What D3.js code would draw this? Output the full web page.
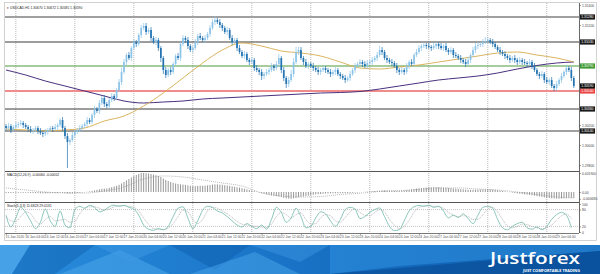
<!DOCTYPE html>
<html>
<head>
<meta charset="utf-8">
<script src="https://cdn.jsdelivr.net/npm/d3@7"></script>
<style>
  body { margin: 0; background: #fff; }
  svg { display: block; font-family: "Liberation Sans", Arial, sans-serif; }
</style>
</head>
<body>
<div id="chart"></div>
<script>
"use strict"

/* ---- Data ---- */
let chartTitle = "USDCAD,H1  1.30670 1.30672 1.30585 1.30590";
let macdTitle = "MACD(12,26,9) -0.00060 -0.00052";
let stochTitle = "Stoch(5,3,3) 11.6823 29.0131";

let firstOpen = 1.3019;
/* hourly closes */
let closes = [
  1.3017,1.3019,1.3015,1.3018,1.3020,1.3021,1.3022,1.3020,
  1.3018,1.3016,1.3014,1.3015,1.3017,1.3014,1.3012,1.3011,
  1.3013,1.3015,1.3017,1.3016,1.3018,1.3020,1.3025,1.3017,
  1.3009,1.3003,1.3005,1.3010,1.3013,1.3015,1.3017,1.3019,
  1.3021,1.3025,1.3023,1.3030,1.3036,1.3034,1.3042,1.3047,
  1.3041,1.3039,1.3045,1.3049,1.3047,1.3055,1.3063,1.3073,
  1.3083,1.3090,1.3087,1.3097,1.3103,1.3101,1.3110,1.3117,
  1.3119,1.3113,1.3115,1.3107,1.3103,1.3105,1.3097,1.3087,
  1.3075,1.3070,1.3075,1.3073,1.3081,1.3089,1.3087,1.3101,
  1.3107,1.3105,1.3099,1.3095,1.3097,1.3103,1.3109,1.3107,
  1.3105,1.3107,1.3111,1.3117,1.3123,1.3125,1.3123,1.3120,
  1.3117,1.3113,1.3115,1.3107,1.3103,1.3105,1.3097,1.3093,
  1.3089,1.3091,1.3085,1.3083,1.3085,1.3077,1.3075,1.3073,
  1.3069,1.3071,1.3073,1.3075,1.3079,1.3077,1.3081,1.3087,
  1.3075,1.3067,1.3061,1.3065,1.3071,1.3083,1.3093,1.3095,
  1.3087,1.3083,1.3079,1.3081,1.3079,1.3077,1.3075,1.3073,
  1.3075,1.3077,1.3075,1.3073,1.3071,1.3073,1.3075,1.3071,
  1.3069,1.3067,1.3065,1.3067,1.3071,1.3075,1.3079,1.3081,
  1.3083,1.3081,1.3079,1.3082,1.3083,1.3085,1.3087,1.3090,
  1.3095,1.3093,1.3087,1.3085,1.3083,1.3082,1.3079,1.3075,
  1.3073,1.3075,1.3073,1.3079,1.3083,1.3081,1.3090,1.3093,
  1.3097,1.3099,1.3100,1.3099,1.3098,1.3097,1.3099,1.3101,
  1.3099,1.3097,1.3099,1.3095,1.3093,1.3095,1.3090,1.3089,
  1.3087,1.3085,1.3083,1.3081,1.3085,1.3090,1.3095,1.3099,
  1.3100,1.3101,1.3103,1.3104,1.3105,1.3103,1.3101,1.3098,
  1.3095,1.3093,1.3091,1.3089,1.3087,1.3085,1.3087,1.3085,
  1.3083,1.3085,1.3083,1.3082,1.3081,1.3083,1.3079,1.3075,
  1.3071,1.3069,1.3071,1.3065,1.3063,1.3065,1.3059,1.3057,
  1.3061,1.3065,1.3069,1.3073,1.3077,1.3075,1.3067,1.3059
];
/* wick lengths above / below the body, in pips */
let upperWick = [
  2,3,2,2,3,2,3,2, 2,2,3,2,2,2,3,2, 3,2,2,2,3,2,2,3, 2,3,2,3,2,2,3,2,
  2,3,2,2,3,2,3,2, 3,2,2,3,2,2,3,4, 3,2,3,2,3,2,2,3, 3,3,2,3,2,3,2,2,
  2,3,2,3,2,2,3,2, 3,2,3,2,2,3,2,3, 2,3,2,3,3,4,2,3, 2,2,3,2,3,2,2,3,
  2,3,2,2,3,2,3,2, 3,2,3,2,3,2,3,4, 2,3,2,3,4,4,5,3, 3,2,3,2,2,3,2,3,
  2,3,2,2,3,2,3,2, 2,2,3,2,3,2,3,2, 3,2,3,3,2,3,2,3, 4,3,2,3,2,3,2,3,
  2,3,2,3,2,3,2,3, 3,2,3,2,3,2,3,2, 2,3,2,3,2,3,2,3, 2,3,2,3,3,2,3,3,
  3,2,3,4,3,2,3,2, 2,3,2,3,2,3,2,3, 2,3,2,3,2,3,2,3, 2,2,3,2,3,2,3,2,
  3,2,3,2,3,2,3,2
];
let lowerWick = [
  3,2,3,2,2,3,2,3, 2,3,2,3,2,3,2,3, 2,3,2,3,2,3,2,3, 3,26,3,2,3,2,2,3,
  2,3,2,2,3,2,3,2, 3,2,3,2,3,2,2,3, 2,3,2,3,2,3,2,3, 2,3,2,3,2,3,3,4,
  4,3,2,3,2,3,2,3, 2,3,3,2,3,2,3,2, 2,3,2,3,2,3,2,3, 3,2,3,2,3,2,3,2,
  2,3,2,3,2,3,2,3, 4,3,2,3,2,3,2,3, 3,3,4,3,2,3,2,3, 2,3,2,3,2,3,2,3,
  3,2,3,2,3,2,3,2, 3,2,3,2,3,2,3,2, 2,3,2,3,2,3,2,3, 2,3,2,3,2,3,2,3,
  3,2,3,2,3,2,3,2, 2,3,2,3,2,3,2,3, 3,2,3,2,3,2,3,2, 2,3,2,3,2,3,2,3,
  3,2,3,2,3,2,3,2, 2,3,2,3,2,3,2,3, 3,2,3,2,3,2,3,2, 2,3,2,3,2,3,2,3,
  3,2,3,2,3,2,3,2
];

/* moving averages, sampled on these bars */
let sampleBars = [0,8,16,24,32,40,48,56,64,72,80,88,96,104,112,120,128,136,144,152,160,168,176,184,192,200,208,216,224,231];
let maFast = [1.3016,1.3015,1.3014,1.3015,1.3017,1.3024,1.3029,1.3039,1.3052,1.3067,1.3082,1.3095,1.3102,1.3099,1.3094,
              1.3092,1.3089,1.3083,1.3077,1.3076,1.3078,1.3080,1.3083,1.3086,1.3089,1.3092,1.3093,1.3090,1.3087,1.3083];
let maSlow = [1.30750,1.30700,1.30640,1.30590,1.30540,1.30490,1.30440,1.30420,1.30430,1.30440,1.30460,1.30470,1.30480,1.30490,1.30500,
              1.30510,1.30520,1.30525,1.30535,1.30560,1.30590,1.30620,1.30650,1.30670,1.30690,1.30720,1.30760,1.30795,1.30820,1.30830];

/* horizontal levels and current bid */
let levels = [1.3128, 1.3103, 1.3079, 1.3054, 1.3036, 1.3014];
let bidPrice = 1.3059;
let priceTicks = [1.3140, 1.3120, 1.3100, 1.3080, 1.3060, 1.3040, 1.3020, 1.3000, 1.2980];

/* MACD histogram and signal, in points (0.00001) */
let macdHist = [
  -10,-9,-10,-9,-8,-8,-7,-8, -8,-9,-10,-11,-11,-12,-13,-14, -14,-13,-12,-12,-11,-10,-8,-9, -11,-14,-15,-14,-12,-10,-8,-5,
  -2,2,6,11,16,22,27,32, 34,36,42,48,55,62,72,85, 100,115,130,145,158,170,180,188, 190,188,185,180,175,168,160,150,
  135,120,110,100,92,85,80,76, 74,70,66,62,58,58,60,62, 62,63,66,70,74,76,76,74, 72,68,64,60,56,52,48,44,
  38,32,26,20,14,8,2,-4, -10,-16,-22,-28,-34,-38,-42,-46, -52,-58,-64,-66,-68,-64,-58,-52, -48,-44,-40,-36,-32,-28,-24,-22,
  -20,-18,-16,-15,-14,-13,-12,-12, -12,-12,-13,-12,-10,-8,-6,-4, -2,0,2,4,6,8,10,12, 14,16,16,16,15,14,13,12,
  12,13,15,18,22,26,30,34, 37,40,42,44,46,47,48,48, 47,46,44,42,40,38,35,32, 30,28,26,24,22,22,22,23,
  24,25,26,27,27,26,24,22, 18,14,10,6,2,-2,-6,-10, -14,-17,-20,-23,-26,-29,-33,-37, -41,-45,-49,-53,-57,-60,-63,-65,
  -66,-66,-65,-63,-61,-59,-59,-60
];
let macdSignal = [40,20,0,-10,-10,10,50,130,160,150,120,90,60,-10,-40,-50,-45,-25,-12,5,14,25,40,40,30,20,0,-25,-50,-60];

/* Stochastic, one value every 2 bars */
let stochStep = 2;
let stochMain = [
  60,18,50,88,70,40,12,35,82,40, 20,75,25,15,80,92,85,95,88,72, 78,90,96,92,95,88,82,60,25,10,
  6,12,8,20,55,85,90,50,12,40, 78,92,88,75,68,55,40,25,18,30, 20,12,25,10,45,88,70,35,50,85,
  55,15,20,50,72,65,40,20,45,80, 88,82,48,55,70,80,86,55,20,5, 8,40,75,90,95,92,96,88,92,75,
  50,60,52,65,48,30,60,88,92,85, 45,15,8,20,30,35,15,10,18,8, 20,45,62,70,60,15
];
let stochSignal = [
  55,40,38,55,72,65,40,28,45,55, 40,42,45,35,38,65,85,90,90,85, 78,82,90,93,94,92,88,75,50,28,
  12,10,9,14,30,55,78,72,45,30, 45,75,88,85,75,65,52,38,28,25, 22,20,18,16,28,55,70,62,50,62,
  68,45,28,30,50,62,58,40,35,52, 72,82,70,60,58,70,80,72,45,25, 12,20,42,70,88,92,93,92,90,85,
  70,60,55,58,55,45,45,62,82,88, 72,45,22,15,20,28,26,20,15,12, 15,25,42,58,64,48
];

/* time axis */
let labelBars = [0,8,16,24,32,40,48,56,64,72,80,88,96,104,112,120,128,136,144,152,160,168,176,184,192,200,208,216,224];
let timeLabels = ["15 Jan 2020","16 Jan 04:00","16 Jan 12:00","16 Jan 20:00","17 Jan 04:00","17 Jan 12:00","17 Jan 20:00",
  "20 Jan 04:00","20 Jan 12:00","20 Jan 20:00","21 Jan 04:00","21 Jan 12:00","21 Jan 20:00","22 Jan 04:00","22 Jan 12:00",
  "22 Jan 20:00","23 Jan 04:00","23 Jan 12:00","23 Jan 20:00","24 Jan 04:00","24 Jan 12:00","24 Jan 20:00","27 Jan 04:00",
  "27 Jan 12:00","27 Jan 20:00","28 Jan 04:00","28 Jan 12:00","28 Jan 20:00","29 Jan 04:00"];
let dayBars = [4,28,52,76,100,124,148,172,196,220];

/* ---- Layout ---- */
let svgWidth = 600;
let svgHeight = 274;
let plotLeft = 5;
let plotRight = 579;
let mainTop = 3, mainBottom = 171;
let macdTop = 172, macdBottom = 202;
let stochTop = 203, stochBottom = 233;
let pip = 0.0001;
let smallFont = 3.4;

let svg = d3.select("#chart")
    .append("svg")
    .attr("width", svgWidth)
    .attr("height", svgHeight);

svg.append("rect")
    .attr("width", svgWidth)
    .attr("height", svgHeight)
    .attr("fill", "#fff");

let n = closes.length;
let xScale = d3.scaleLinear().domain([0, n - 1]).range([6, 573.8]);
let yPrice = d3.scaleLinear().domain([1.3142, 1.2975]).range([3, 170]);
let yMacd = d3.scaleLinear().domain([-100, 200]).range([202, 172]);
let yStoch = d3.scaleLinear().domain([0, 100]).range([232, 204]);

/* chart frame */
svg.append("rect")
    .attr("x", 4.5).attr("y", 2.5)
    .attr("width", 592).attr("height", 238)
    .attr("fill", "none")
    .attr("stroke", "#c8c8c8")
    .attr("stroke-width", 0.8);

/* vertical day grid (dotted) */
svg.append("g")
    .selectAll("line")
    .data(dayBars)
    .join("line")
    .attr("x1", d => xScale(d)).attr("x2", d => xScale(d))
    .attr("y1", mainTop).attr("y2", stochBottom)
    .attr("stroke", "#8a8a8a")
    .attr("stroke-width", 0.6)
    .attr("stroke-dasharray", "1,1");

/* clip for the price panel */
svg.append("clipPath").attr("id", "mainClip")
    .append("rect")
    .attr("x", plotLeft).attr("y", mainTop)
    .attr("width", plotRight - plotLeft).attr("height", mainBottom - mainTop);

let mainG = svg.append("g").attr("clip-path", "url(#mainClip)");

/* horizontal levels */
let levelStyle = [
    {stroke: "#a0a0a0", width: 1.8, box: "#1a1a1a", text: "#fff"},
    {stroke: "#3a3a3a", width: 1, box: "#1a1a1a", text: "#fff"},
    {stroke: "#4f9a3c", width: 1, box: "#3f9a35", text: "#fff"},
    {stroke: "#f08c8c", width: 1.8, box: "#e84848", text: "#fff"},
    {stroke: "#3a3a3a", width: 1, box: "#1a1a1a", text: "#fff"},
    {stroke: "#a0a0a0", width: 1.8, box: "#1a1a1a", text: "#fff"}
];
mainG.selectAll(".level")
    .data(levels)
    .join("line")
    .attr("class", "level")
    .attr("x1", plotLeft).attr("x2", plotRight)
    .attr("y1", d => yPrice(d)).attr("y2", d => yPrice(d))
    .attr("stroke", (d, i) => levelStyle[i].stroke)
    .attr("stroke-width", (d, i) => levelStyle[i].width);

/* moving averages */
let maLine = d3.line()
    .x((d, i) => xScale(sampleBars[i]))
    .y(d => yPrice(d))
    .curve(d3.curveMonotoneX);

mainG.append("path")
    .attr("d", maLine(maSlow))
    .attr("fill", "none")
    .attr("stroke", "#4a2f7e")
    .attr("stroke-width", 1);

mainG.append("path")
    .attr("d", maLine(maFast))
    .attr("fill", "none")
    .attr("stroke", "#d6ac4e")
    .attr("stroke-width", 0.9);

/* candles */
let candles = closes.map(function (c, i) {
    let o = i === 0 ? firstOpen : closes[i - 1];
    return {
        i: i, open: o, close: c,
        high: Math.max(o, c) + upperWick[i] * pip,
        low: Math.min(o, c) - lowerWick[i] * pip
    };
});
let bullColor = "#8cc4e8";
let bearColor = "#2474b2";

mainG.selectAll(".wick")
    .data(candles)
    .join("line")
    .attr("class", "wick")
    .attr("x1", d => xScale(d.i)).attr("x2", d => xScale(d.i))
    .attr("y1", d => yPrice(d.high)).attr("y2", d => yPrice(d.low))
    .attr("stroke", d => d.close >= d.open ? bullColor : bearColor)
    .attr("stroke-width", 0.7);

mainG.selectAll(".body")
    .data(candles)
    .join("rect")
    .attr("class", "body")
    .attr("x", d => xScale(d.i) - 0.85)
    .attr("width", 1.7)
    .attr("y", d => yPrice(Math.max(d.open, d.close)))
    .attr("height", d => Math.max(0.7, Math.abs(yPrice(d.open) - yPrice(d.close))))
    .attr("fill", d => d.close >= d.open ? bullColor : bearColor);

/* chart title */
svg.append("text")
    .attr("x", 7).attr("y", 8.5)
    .attr("font-size", smallFont)
    .attr("fill", "#222")
    .text("\u25BE " + chartTitle);

/* ---- MACD panel ---- */
svg.append("line")
    .attr("x1", plotLeft).attr("x2", plotRight)
    .attr("y1", mainBottom + 0.5).attr("y2", mainBottom + 0.5)
    .attr("stroke", "#555").attr("stroke-width", 1);

svg.append("g")
    .selectAll("line")
    .data(macdHist)
    .join("line")
    .attr("x1", (d, i) => xScale(i)).attr("x2", (d, i) => xScale(i))
    .attr("y1", yMacd(0)).attr("y2", d => yMacd(d))
    .attr("stroke", "#6a6a6a")
    .attr("stroke-width", 0.7);

svg.append("path")
    .attr("d", d3.line()
        .x((d, i) => xScale(sampleBars[i]))
        .y(d => yMacd(d))
        .curve(d3.curveMonotoneX)(macdSignal))
    .attr("fill", "none")
    .attr("stroke", "#9a9a9a")
    .attr("stroke-width", 0.7)
    .attr("stroke-dasharray", "1,1");

svg.append("text")
    .attr("x", 7).attr("y", macdTop + 4)
    .attr("font-size", smallFont)
    .attr("fill", "#222")
    .text(macdTitle);

/* ---- Stochastic panel ---- */
svg.append("line")
    .attr("x1", plotLeft).attr("x2", plotRight)
    .attr("y1", macdBottom + 0.5).attr("y2", macdBottom + 0.5)
    .attr("stroke", "#555").attr("stroke-width", 1);

svg.append("g")
    .selectAll("line")
    .data([80, 20])
    .join("line")
    .attr("x1", plotLeft).attr("x2", plotRight)
    .attr("y1", d => yStoch(d)).attr("y2", d => yStoch(d))
    .attr("stroke", "#999")
    .attr("stroke-width", 0.6)
    .attr("stroke-dasharray", "1,1");

let stochLine = d3.line()
    .x((d, i) => xScale(i * stochStep))
    .y(d => yStoch(d))
    .curve(d3.curveMonotoneX);

svg.append("path")
    .attr("d", stochLine(stochSignal))
    .attr("fill", "none")
    .attr("stroke", "#a8a8a8")
    .attr("stroke-width", 0.7)
    .attr("stroke-dasharray", "1.2,0.8");

svg.append("path")
    .attr("d", stochLine(stochMain))
    .attr("fill", "none")
    .attr("stroke", "#6fb9ab")
    .attr("stroke-width", 0.8);

svg.append("text")
    .attr("x", 7).attr("y", stochTop + 4)
    .attr("font-size", smallFont)
    .attr("fill", "#222")
    .text(stochTitle);

/* ---- Right price scale ---- */
svg.append("line")
    .attr("x1", plotRight + 0.5).attr("x2", plotRight + 0.5)
    .attr("y1", mainTop).attr("y2", stochBottom)
    .attr("stroke", "#444").attr("stroke-width", 0.8);

let boxed = levels.concat([bidPrice]);
let visibleTicks = priceTicks.filter(t => boxed.every(b => Math.abs(yPrice(t) - yPrice(b)) > 4));

let priceAxis = svg.append("g")
    .attr("transform", "translate(" + (plotRight + 0.5) + ",0)")
    .call(d3.axisRight(yPrice)
        .tickValues(visibleTicks)
        .tickSize(1.5)
        .tickPadding(1)
        .tickFormat(d3.format(".5f")));
priceAxis.select(".domain").remove();
priceAxis.selectAll("text").attr("font-size", smallFont).attr("fill", "#444");
priceAxis.selectAll("line").attr("stroke", "#444").attr("stroke-width", 0.5);

/* price boxes for levels and bid */
let boxData = levels.map((v, i) => ({v: v, fill: levelStyle[i].box, text: levelStyle[i].text}))
    .concat([{v: bidPrice, fill: "#111", text: "#fff"}]);
let boxG = svg.append("g").selectAll("g")
    .data(boxData)
    .join("g")
    .attr("transform", d => "translate(" + (plotRight + 1) + "," + yPrice(d.v) + ")");
boxG.append("rect")
    .attr("x", 0).attr("y", -2.6)
    .attr("width", 15).attr("height", 5.2)
    .attr("fill", d => d.fill);
boxG.append("text")
    .attr("x", 1.2).attr("y", 1.2)
    .attr("font-size", smallFont)
    .attr("fill", d => d.text)
    .text(d => d3.format(".5f")(d.v));

/* MACD scale */
let macdTicks = [d3.max(macdHist), 0, d3.min(macdHist)];
let macdAxis = svg.append("g")
    .attr("transform", "translate(" + (plotRight + 0.5) + ",0)")
    .call(d3.axisRight(yMacd)
        .tickValues(macdTicks)
        .tickSize(1.5)
        .tickPadding(1)
        .tickFormat(d => d === 0 ? "0.00" : (d / 100000).toFixed(6)));
macdAxis.select(".domain").remove();
macdAxis.selectAll("text").attr("font-size", smallFont).attr("fill", "#444");
macdAxis.selectAll("line").attr("stroke", "#444").attr("stroke-width", 0.5);

/* stochastic scale */
let stochAxis = svg.append("g")
    .attr("transform", "translate(" + (plotRight + 0.5) + ",0)")
    .call(d3.axisRight(yStoch)
        .tickValues([100, 80, 20, 0])
        .tickSize(1.5)
        .tickPadding(1));
stochAxis.select(".domain").remove();
stochAxis.selectAll("text").attr("font-size", smallFont).attr("fill", "#444");
stochAxis.selectAll("line").attr("stroke", "#444").attr("stroke-width", 0.5);

/* ---- Time axis ---- */
let timeAxis = svg.append("g")
    .attr("transform", "translate(0," + (stochBottom + 0.5) + ")")
    .call(d3.axisBottom(xScale)
        .tickValues(labelBars)
        .tickSize(1.5)
        .tickPadding(0.8)
        .tickFormat((d, i) => timeLabels[i]));
timeAxis.select(".domain")
    .attr("d", "M" + plotLeft + ",0H" + plotRight)
    .attr("stroke", "#555").attr("stroke-width", 0.8);
timeAxis.selectAll("text")
    .attr("font-size", smallFont)
    .attr("fill", "#555")
    .attr("text-anchor", "start")
    .attr("dx", -1);
timeAxis.selectAll("line").attr("stroke", "#555").attr("stroke-width", 0.5);

/* ---- JustForex banner ---- */
let bannerTop = 245;
let defs = svg.append("defs");
let grad = defs.append("linearGradient").attr("id", "bannerGrad").attr("x1", "0").attr("x2", "1");
grad.append("stop").attr("offset", "0").attr("stop-color", "#2a8ede");
grad.append("stop").attr("offset", "0.45").attr("stop-color", "#1a74c8");
grad.append("stop").attr("offset", "1").attr("stop-color", "#0d5aa8");

svg.append("rect")
    .attr("x", 0).attr("y", bannerTop)
    .attr("width", svgWidth).attr("height", svgHeight - bannerTop)
    .attr("fill", "url(#bannerGrad)");

let facets = [
    {pts: [[0,245],[30,245],[12,274],[0,274]], fill: "#5fb3ee", op: 0.55},
    {pts: [[30,245],[95,245],[55,274],[12,274]], fill: "#0f5fae", op: 0.45},
    {pts: [[60,274],[120,250],[170,274]], fill: "#4aa6ea", op: 0.55},
    {pts: [[95,245],[170,245],[130,262]], fill: "#3d9ae4", op: 0.5},
    {pts: [[170,245],[250,245],[215,270]], fill: "#0e5aa8", op: 0.45},
    {pts: [[190,274],[255,252],[300,274]], fill: "#4aa6ea", op: 0.5},
    {pts: [[250,245],[330,245],[300,262]], fill: "#3b95df", op: 0.5},
    {pts: [[330,245],[600,245],[600,251],[400,266],[330,274]], fill: "#2d8ddd", op: 0.6},
    {pts: [[330,274],[600,251],[600,274]], fill: "#0a4f98", op: 0.7}
];
svg.append("g")
    .selectAll("polygon")
    .data(facets)
    .join("polygon")
    .attr("points", d => d.pts.map(p => p.join(",")).join(" "))
    .attr("fill", d => d.fill)
    .attr("opacity", d => d.op);

svg.append("text")
    .attr("x", 490).attr("y", 263.5)
    .attr("font-family", "'Open Sans', sans-serif")
    .attr("font-weight", 600)
    .attr("font-size", 17)
    .attr("textLength", 90)
    .attr("lengthAdjust", "spacingAndGlyphs")
    .attr("fill", "#fff")
    .text("Justforex");

svg.append("text")
    .attr("x", 523).attr("y", 271.5)
    .attr("font-family", "'Open Sans', sans-serif")
    .attr("font-weight", 700)
    .attr("font-size", 3.4)
    .attr("textLength", 57)
    .attr("lengthAdjust", "spacingAndGlyphs")
    .attr("fill", "#fff")
    .text("JUST COMFORTABLE TRADING");
</script>
</body>
</html>
